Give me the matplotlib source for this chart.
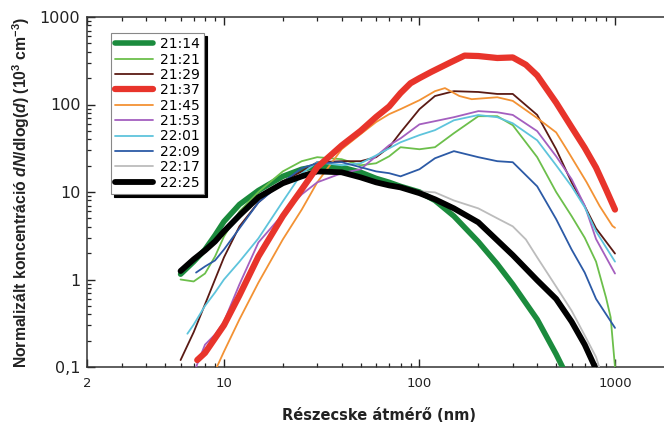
import numpy as np
import matplotlib
matplotlib.use("Agg")
import matplotlib.pyplot as plt
from matplotlib.ticker import FixedLocator, LogLocator, NullFormatter

plt.rcParams["font.family"] = ["DejaVu Sans"]
plt.rcParams["mathtext.fontset"] = "custom"
plt.rcParams["mathtext.rm"] = "Liberation Sans:bold"
plt.rcParams["mathtext.it"] = "Liberation Sans:italic:bold"
plt.rcParams["mathtext.bf"] = "Liberation Sans:bold"

# Size distributions, particle diameter in nm, concentration in 10^3 cm^-3
d_2114 = [6, 7, 8, 9, 10, 12, 15, 20, 25, 30, 40, 50, 60, 70, 80, 100, 120, 150, 200, 250, 300, 400, 500, 545]
v_2114 = [1.15, 1.6, 2.2, 3.2, 4.6, 7.2, 10.4, 15.1, 18.2, 19.7, 19.2, 16.8, 14.3, 12.9, 11.6, 10.0, 8.0, 5.3, 2.7, 1.5, 0.88, 0.35, 0.14, 0.095]

d_2121 = [6, 7, 8, 9, 10, 12, 15, 20, 25, 30, 40, 50, 60, 70, 80, 100, 120, 150, 200, 250, 300, 400, 500, 600, 700, 800, 900, 950, 1000]
v_2121 = [1.0, 0.95, 1.17, 1.83, 3.1, 6.0, 10.0, 17.2, 22.5, 25.0, 23.7, 20.2, 21.3, 25.6, 32.5, 30.8, 32.5, 47.0, 73.5, 73.5, 58.0, 25.0, 10.0, 5.3, 3.0, 1.6, 0.62, 0.37, 0.1]

d_2129 = [6, 7, 8, 9, 10, 12, 15, 20, 25, 30, 40, 50, 60, 70, 80, 100, 120, 150, 200, 250, 300, 400, 500, 600, 700, 800, 1000]
v_2129 = [0.12, 0.25, 0.52, 1.0, 1.79, 4.05, 7.6, 13.3, 17.2, 21.9, 22.5, 22.5, 25.0, 32.5, 48.0, 88.5, 125, 142, 139, 132, 132, 76, 30.8, 12.9, 6.9, 3.84, 1.98]

d_2137 = [7.3, 8, 10, 12, 15, 20, 25, 30, 40, 50, 60, 70, 80, 90, 100, 115, 145, 170, 200, 250, 300, 350, 400, 500, 600, 700, 800, 900, 1000]
v_2137 = [0.12, 0.145, 0.30, 0.66, 1.83, 5.3, 10.7, 19.2, 34, 50, 72, 95, 135, 175, 200, 236, 305, 362, 358, 340, 345, 285, 215, 105, 55, 32, 19, 10.7, 6.3]

d_2145 = [9.2, 10, 12, 15, 20, 25, 30, 40, 50, 60, 70, 80, 100, 120, 135, 160, 185, 250, 300, 400, 500, 565, 715, 835, 970, 1000]
v_2145 = [0.1, 0.15, 0.35, 0.92, 2.87, 6.3, 12.9, 30.8, 45.8, 63, 77.6, 88.5, 112, 142, 154, 125, 115, 121, 110, 70, 48, 31, 13, 6.9, 4.1, 3.9]

d_2153 = [7.2, 8, 9, 10, 12, 15, 20, 25, 30, 40, 50, 60, 70, 80, 100, 120, 150, 200, 250, 300, 400, 500, 600, 700, 800, 1000]
v_2153 = [0.1, 0.18, 0.235, 0.33, 0.88, 2.65, 5.55, 9.4, 12.9, 16.4, 18.2, 25.6, 34.3, 41, 59.3, 64.5, 71.6, 84, 81.5, 76, 49.6, 25.6, 14, 7.0, 2.9, 1.17]

d_2201 = [6.5, 7, 8, 9, 10, 12, 15, 20, 25, 30, 40, 50, 60, 70, 80, 100, 120, 150, 200, 250, 300, 400, 500, 600, 700, 800, 1000]
v_2201 = [0.24, 0.305, 0.5, 0.71, 1.0, 1.6, 2.95, 7.8, 16.3, 21.9, 20.2, 21.3, 26.2, 31.6, 37, 44.7, 50.9, 66, 75.8, 71.6, 61, 39, 20.2, 11.6, 6.7, 3.55, 1.6]

d_2209 = [7.2, 8, 9, 10, 12, 15, 20, 25, 30, 40, 50, 60, 70, 80, 100, 120, 150, 200, 250, 300, 400, 500, 600, 700, 800, 1000]
v_2209 = [1.2, 1.41, 1.65, 2.2, 3.84, 7.6, 12.9, 18.7, 21.3, 21.9, 19.2, 17.2, 16.4, 15.1, 18.2, 24.3, 29.3, 25, 22.5, 21.9, 11.6, 4.9, 2.2, 1.2, 0.6, 0.28]

d_2217 = [6, 7, 8, 9, 10, 12, 15, 20, 25, 30, 40, 50, 60, 70, 80, 100, 120, 150, 200, 250, 300, 350, 400, 500, 600, 700, 800, 830]
v_2217 = [1.25, 1.7, 2.15, 2.72, 3.55, 5.4, 8.7, 12.6, 15.1, 17.2, 16.8, 14.7, 12.9, 11.9, 11.3, 10.2, 9.9, 8.0, 6.5, 5.0, 4.05, 2.87, 1.79, 0.83, 0.44, 0.23, 0.13, 0.1]

d_2225 = [6, 7, 8, 9, 10, 12, 15, 20, 25, 30, 40, 50, 60, 70, 80, 100, 120, 150, 200, 250, 300, 400, 500, 600, 700, 790]
v_2225 = [1.25, 1.7, 2.15, 2.72, 3.55, 5.4, 8.7, 12.6, 15.1, 17.2, 16.8, 14.7, 12.9, 11.9, 11.3, 9.7, 8.25, 6.5, 4.5, 2.8, 1.9, 0.98, 0.6, 0.33, 0.18, 0.1]

labels = ["21:14", "21:21", "21:29", "21:37", "21:45", "21:53", "22:01", "22:09", "22:17", "22:25"]
diams = [d_2114, d_2121, d_2129, d_2137, d_2145, d_2153, d_2201, d_2209, d_2217, d_2225]
values = [v_2114, v_2121, v_2129, v_2137, v_2145, v_2153, v_2201, v_2209, v_2217, v_2225]
colors = ["#1b8b3d", "#6cbf4b", "#5a1a14", "#e8342b", "#f39234", "#a45fbf",
          "#5ec4dc", "#2c5aa6", "#bcbcbc", "#000000"]
widths = [4.0, 1.3, 1.3, 4.5, 1.3, 1.3, 1.3, 1.3, 1.3, 4.2]
zorders = [3, 4, 4, 6, 4, 4, 4, 4, 3, 5]

x_ticks = [2, 10, 100, 1000]
x_ticklabels = ["2", "10", "100", "1000"]
y_ticks = [0.1, 1, 10, 100, 1000]
y_ticklabels = ["0,1", "1", "10", "100", "1000"]

fig = plt.figure(figsize=(6.64, 4.24), dpi=100)
ax = fig.add_axes([87.3 / 664, 1 - 367 / 424, 576.7 / 664, 350 / 424])

for d, v, c, lw, z, lab in zip(diams, values, colors, widths, zorders, labels):
    ax.plot(d, v, color=c, lw=lw, zorder=z, label=lab,
            solid_joinstyle="round", solid_capstyle="round")

ax.set_xscale("log")
ax.set_yscale("log")
ax.set_xlim(2, 1781)
ax.set_ylim(0.1, 1000)

ax.xaxis.set_major_locator(FixedLocator(x_ticks))
ax.set_xticklabels(x_ticklabels)
ax.xaxis.set_minor_locator(LogLocator(base=10, subs=np.arange(2, 10), numticks=20))
ax.xaxis.set_minor_formatter(NullFormatter())
ax.yaxis.set_major_locator(FixedLocator(y_ticks))
ax.set_yticklabels(y_ticklabels)
ax.yaxis.set_minor_locator(LogLocator(base=10, subs=np.arange(2, 10), numticks=20))
ax.yaxis.set_minor_formatter(NullFormatter())

ax.tick_params(which="both", direction="in", top=True, right=False, colors="#222222")
ax.tick_params(which="major", length=6, width=1.0)
ax.tick_params(which="minor", length=3, width=0.9)
ax.tick_params(axis="x", which="major", labelsize=9.5, pad=7, labelcolor="#222222")
ax.tick_params(axis="y", which="major", labelsize=11.5, pad=5, labelcolor="#222222")

for side in ("left", "bottom", "top"):
    ax.spines[side].set_color("#333333")
    ax.spines[side].set_linewidth(1.1)
ax.spines["right"].set_visible(False)

leg = ax.legend(loc="upper left", bbox_to_anchor=(23.7 / 576.7, 334 / 350), borderaxespad=0,
                fontsize=10, handlelength=2.75, handletextpad=0.5, labelspacing=0.1,
                borderpad=0.3, fancybox=False, framealpha=1, edgecolor="#888888",
                shadow={"color": "black", "alpha": 1.0})
leg.get_frame().set_linewidth(0.8)
leg.set_zorder(10)

fig.text(379 / 664, 1 - 415 / 424, "Részecske átmérő (nm)", ha="center", va="center",
         fontsize=10.5, fontweight="bold", color="#222222")
fig.text(21.5 / 664, 1 - 192 / 424,
         r"Normalizált koncentráció $dN$/dlog($d$) (10$^3$ cm$^{-3}$)",
         ha="center", va="center", rotation=90, fontsize=11.3, fontweight="bold",
         family="Liberation Sans", color="#222222")

fig.savefig("out.png", dpi=100)
